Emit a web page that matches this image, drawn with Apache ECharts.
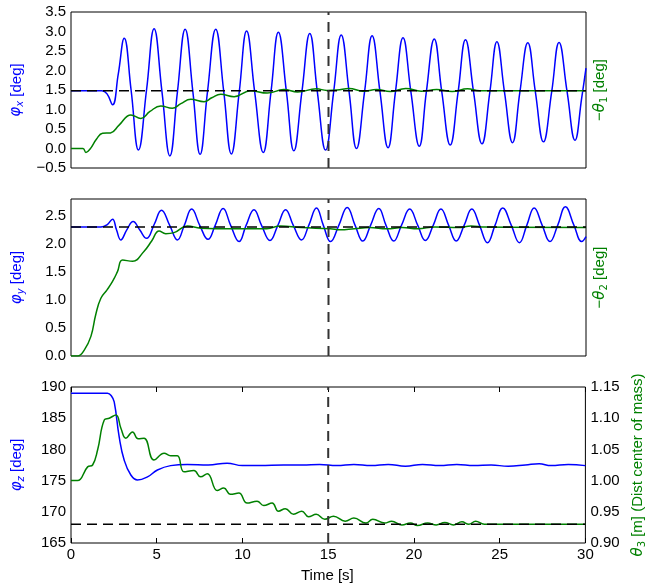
<!DOCTYPE html>
<html><head><meta charset="utf-8">
<script src="https://cdn.jsdelivr.net/npm/echarts/dist/echarts.min.js"></script>
<style>html,body{margin:0;padding:0;background:#fff}#c{width:655px;height:588px}</style>
</head><body><div id="c"></div>
<script>
// ---- data (time [s], value) ----
const timeRange = [0, 30];
const tMark = 15;
// Panel 1
const phiX = [[0,1.48],[1.8,1.48],[2.1,1.4],[2.42,1.12],[2.75,1.9],[3.1,2.83],[3.5,1.5],[3.93,-0.04],[4.4,1.5],[4.84,3.07],[5.3,1.45],[5.76,-0.19],[6.2,1.45],[6.65,3.06],[7.1,1.45],[7.52,-0.15],[7.95,1.45],[8.43,3.06],[8.9,1.45],[9.34,-0.14],[9.8,1.45],[10.23,3.01],[10.7,1.45],[11.2,-0.10],[11.65,1.45],[12.08,2.98],[12.55,1.45],[12.98,-0.06],[13.45,1.45],[13.91,2.95],[14.35,1.45],[14.83,-0.04],[15.3,1.45],[15.74,2.91],[16.2,1.45],[16.63,0.0],[17.1,1.45],[17.54,2.89],[18.0,1.45],[18.47,0.02],[18.9,1.45],[19.34,2.84],[19.8,1.45],[20.29,0.06],[20.7,1.45],[21.16,2.81],[21.6,1.45],[22.09,0.09],[22.55,1.45],[22.98,2.79],[23.45,1.45],[23.94,0.12],[24.4,1.45],[24.81,2.74],[25.25,1.45],[25.72,0.15],[26.15,1.45],[26.61,2.71],[27.05,1.45],[27.52,0.17],[28.0,1.45],[28.43,2.72],[28.9,1.45],[29.36,0.21],[29.75,1.3],[30,2.06]];
const negTheta1 = [[0,0],[0.7,0],[0.87,-0.1],[1.1,-0.02],[1.5,0.25],[1.84,0.39],[2.3,0.4],[2.8,0.6],[3.49,0.86],[4.07,0.77],[4.6,0.95],[5.23,1.09],[5.9,1.03],[6.4,1.15],[6.98,1.26],[7.75,1.2],[8.2,1.3],[8.72,1.39],[9.5,1.33],[10.47,1.48],[11.43,1.42],[12.4,1.51],[13.2,1.45],[14.3,1.53],[14.9,1.49],[15.5,1.50],[16.2,1.54],[17.0,1.47],[17.8,1.51],[18.6,1.46],[19.5,1.54],[20.4,1.47],[21.3,1.51],[22.2,1.46],[23.1,1.53],[23.8,1.48],[30,1.48]];
const ref1 = 1.48;
// Panel 2
const phiY = [[0,2.30],[1.74,2.30],[2.1,2.34],[2.42,2.44],[2.65,2.25],[2.9,2.07],[3.25,2.25],[3.62,2.40],[4.0,2.25],[4.4,2.10],[4.85,2.35],[5.27,2.60],[5.75,2.33],[6.2,2.07],[6.6,2.33],[7.03,2.62],[7.5,2.33],[7.98,2.08],[8.4,2.33],[8.86,2.63],[9.3,2.33],[9.79,2.04],[10.2,2.33],[10.66,2.61],[11.1,2.33],[11.59,2.06],[12.05,2.33],[12.5,2.61],[12.95,2.33],[13.43,2.07],[13.85,2.33],[14.3,2.64],[14.7,2.33],[15.12,2.04],[15.6,2.33],[16.09,2.65],[16.55,2.33],[17.0,2.05],[17.45,2.33],[17.93,2.63],[18.35,2.33],[18.8,2.05],[19.25,2.33],[19.73,2.62],[20.2,2.33],[20.64,2.06],[21.1,2.33],[21.55,2.62],[22.0,2.33],[22.44,2.05],[22.9,2.33],[23.35,2.62],[23.8,2.33],[24.26,2.02],[24.7,2.33],[25.15,2.64],[25.65,2.33],[26.12,2.02],[26.55,2.33],[26.98,2.64],[27.45,2.33],[27.9,2.04],[28.35,2.33],[28.8,2.66],[29.3,2.33],[29.75,2.04],[30,2.13]];
const negTheta2 = [[0,0],[0.39,0],[0.78,0.11],[1.16,0.35],[1.45,0.75],[1.74,1.03],[2.1,1.18],[2.42,1.33],[2.7,1.5],[3.0,1.71],[3.59,1.69],[4.26,1.87],[4.7,2.05],[5.13,2.23],[5.52,2.18],[6.0,2.20],[6.78,2.32],[7.56,2.28],[9.5,2.27],[11.4,2.27],[12.2,2.32],[13.4,2.29],[15.1,2.27],[15.7,2.25],[16.5,2.27],[17.4,2.29],[18.4,2.27],[19.3,2.29],[20.2,2.27],[21.2,2.30],[22.6,2.29],[23.3,2.32],[24.1,2.30],[30,2.29]];
const ref2 = 2.30;
// Panel 3
const phiZ = [[0,189.0],[2.13,189.0],[2.35,188.6],[2.52,187.6],[2.81,182.0],[3.1,178.3],[3.49,175.9],[3.88,175.1],[4.46,175.6],[5.04,176.7],[5.81,177.4],[6.78,177.6],[8.0,177.5],[9.1,177.8],[10.0,177.4],[11.0,177.4],[12.4,177.5],[13.5,177.5],[14.5,177.6],[15.5,177.4],[16.5,177.6],[17.5,177.4],[18.5,177.6],[19.5,177.3],[20.5,177.6],[21.5,177.4],[22.5,177.6],[23.5,177.4],[24.5,177.5],[25.5,177.3],[26.5,177.5],[27.3,177.7],[28.0,177.4],[29.0,177.6],[30,177.4]];
const theta3 = [[0,1.000],[0.38,1.000],[0.97,1.022],[1.26,1.025],[1.55,1.049],[1.94,1.097],[2.23,1.100],[2.62,1.105],[2.91,1.084],[3.2,1.068],[3.59,1.078],[3.91,1.067],[4.26,1.068],[4.84,1.033],[5.43,1.044],[5.81,1.040],[6.2,1.040],[6.59,1.014],[7.17,1.016],[7.56,1.006],[7.95,1.011],[8.53,0.984],[8.91,0.988],[9.3,0.978],[9.79,0.980],[10.27,0.964],[10.85,0.967],[11.24,0.960],[11.73,0.964],[12.1,0.951],[12.5,0.955],[12.98,0.946],[13.46,0.951],[13.85,0.942],[14.3,0.946],[14.8,0.938],[15.31,0.943],[15.99,0.935],[16.5,0.940],[17.2,0.932],[17.6,0.938],[18.3,0.932],[18.7,0.935],[19.3,0.929],[19.8,0.932],[20.2,0.928],[20.8,0.932],[21.3,0.929],[21.8,0.933],[22.3,0.929],[22.8,0.934],[23.2,0.930],[23.6,0.935],[24.1,0.930],[30,0.930]];
const ref3 = 168;
// axis ranges
const y1Range = [-0.5, 3.5];
const y2Range = [0, 2.8];
const y3Range = [165, 190];
const y3rRange = [0.90, 1.15];

// ---- styles ----
const FONT = 'Liberation Sans';
const MATH = 'DejaVu Sans';
const BLUE = '#0000ff', GREEN = '#008000';
const lbl = {color:'#000', fontFamily:FONT, fontSize:15};
function fmt1(v){ return (v<0?'\u2212':'') + Math.abs(v).toFixed(1); }
function nameStyle(color){
  return {color:color, fontFamily:FONT, fontSize:15,
    rich:{ i:{fontStyle:'italic', fontFamily:MATH, fontSize:15, color:color},
           s:{fontStyle:'italic', fontFamily:MATH, fontSize:10, color:color, padding:[8,0,0,0]},
           n:{fontFamily:MATH, fontSize:10, color:color, padding:[8,0,0,0]} } };
}
const grids = [
  {left:71, width:515, top:12, height:156},
  {left:71, width:515, top:199, height:157},
  {left:71, width:515, top:387, height:156}
].map(g => Object.assign(g, {show:true, borderColor:'#000', borderWidth:1, containLabel:false}));

function xAx(gi, showLabels, pos){
  return {type:'value', gridIndex:gi, min:timeRange[0], max:timeRange[1], interval:5, position:pos||'bottom',
    axisLine:{show:false}, splitLine:{show:false},
    axisTick:{show:showLabels, inside:true, length:5, lineStyle:{color:'#000'}},
    axisLabel:{show:showLabels && pos!=='top', margin:4, ...lbl}};
}
function yAx(gi, range, interval, pos, fmt, showLabels, name, color, gap, showMax){
  return {type:'value', gridIndex:gi, min:range[0], max:range[1], interval:interval, position:pos,
    axisLine:{show:false}, splitLine:{show:false}, axisTick:{show:false},
    axisLabel:{show:showLabels, formatter:fmt, margin:5, showMaxLabel: showMax, ...lbl},
    name:name, nameLocation:'middle', nameRotate:90, nameGap:gap, nameTextStyle:nameStyle(color)};
}
function line(data, xi, yi, color, z){
  return {type:'line', data:data, xAxisIndex:xi, yAxisIndex:yi, showSymbol:false, smooth:0.45,
    lineStyle:{color:color, width:1.5}, itemStyle:{color:color}, z:z||2, animation:false, silent:true};
}
function dash(data, xi, yi, color, w, pat, z){
  return {type:'line', data:data, xAxisIndex:xi, yAxisIndex:yi, showSymbol:false,
    lineStyle:{color:color, width:w, type:pat}, z:z||3, animation:false, silent:true};
}

const option = {
  backgroundColor:'#fff',
  animation:false,
  grid: grids,
  xAxis: [xAx(0,false), xAx(1,false), xAx(2,true), xAx(2,true,'top')],
  yAxis: [
    yAx(0, y1Range, 0.5, 'left', fmt1, true, '{i|φ}{s|x} [deg]', BLUE, 45, true),
    yAx(0, y1Range, 0.5, 'right', fmt1, false, '\u2212{i|θ}{n|1} [deg]', GREEN, 5, true),
    yAx(1, y2Range, 0.5, 'left', v => v.toFixed(1), true, '{i|φ}{s|y} [deg]', BLUE, 45, false),
    yAx(1, y2Range, 0.5, 'right', v => v.toFixed(1), false, '\u2212{i|θ}{n|2} [deg]', GREEN, 5, false),
    yAx(2, y3Range, 5, 'left', v => String(v), true, '{i|φ}{s|z} [deg]', BLUE, 45, true),
    yAx(2, y3rRange, 0.05, 'right', v => v.toFixed(2), true, '{i|θ}{n|3} [m] (Dist center of mass)', GREEN, 36, true)
  ],
  series: [
    line(phiX, 0, 0, BLUE), line(negTheta1, 0, 1, GREEN),
    dash([[timeRange[0],ref1],[timeRange[1],ref1]], 0, 0, '#000', 1.5, [10,6]),
    dash([[tMark,y1Range[0]],[tMark,y1Range[1]]], 0, 0, '#333', 2, [10,7]),
    line(phiY, 1, 2, BLUE), line(negTheta2, 1, 3, GREEN),
    dash([[timeRange[0],ref2],[timeRange[1],ref2]], 1, 2, '#000', 1.5, [10,6]),
    dash([[tMark,y2Range[0]],[tMark,y2Range[1]]], 1, 2, '#333', 2, [10,7]),
    line(phiZ, 2, 4, BLUE), line(theta3, 2, 5, GREEN),
    dash([[timeRange[0],ref3],[timeRange[1],ref3]], 2, 4, '#000', 1.5, [10,6]),
    dash([[tMark,y3Range[0]],[tMark,y3Range[1]]], 2, 4, '#333', 2, [10,7])
  ],
  graphic: [{type:'text', left:301, top:568, style:{text:'Time [s]', fill:'#000', font:'15px "Liberation Sans"'}}]
};
const chart = echarts.init(document.getElementById('c'), null, {renderer:'canvas'});
chart.setOption(option);
</script></body></html>
